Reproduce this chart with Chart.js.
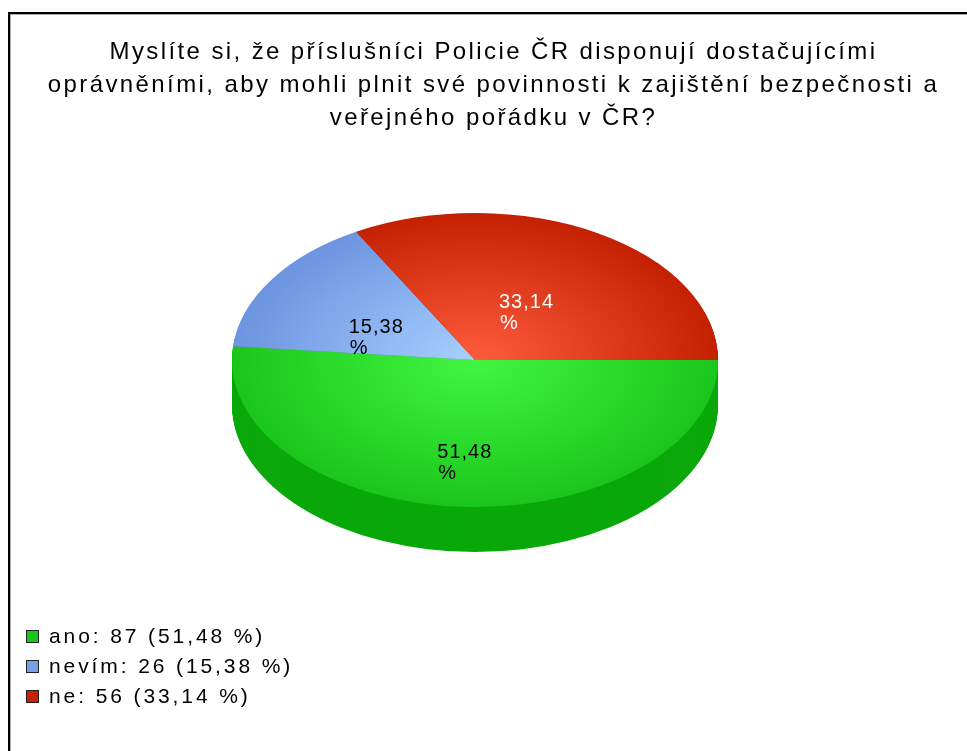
<!DOCTYPE html>
<html>
<head>
<meta charset="utf-8">
<script src="https://cdn.jsdelivr.net/npm/chart.js@4"></script>
<style>
  html, body { margin: 0; padding: 0; background: #fff; }
  #wrap { position: relative; width: 967px; height: 751px; overflow: hidden; font-family: "Liberation Sans", Arial, sans-serif; color: #000; }
  #ramecek { position: absolute; left: 8px; top: 12px; right: -10px; bottom: -10px; border-top: 2px solid #000; border-left: 2px solid #000; box-shadow: inset 1px 1px 0 #aaa; }
  #titulek { position: absolute; left: 0; width: 987px; top: 34px; text-align: center; font-size: 24px; line-height: 33px; letter-spacing: 2.4px; white-space: nowrap; }
  #legenda { position: absolute; left: 26px; top: 621px; font-size: 21px; line-height: 30px; letter-spacing: 2.9px; }
  .polozka { display: flex; align-items: center; height: 30px; }
  .ctverec { width: 11px; height: 11px; border: 1px solid #222; margin-right: 10px; }
  canvas { position: absolute; left: 0; top: 0; }
</style>
</head>
<body>
<div id="wrap">
  <canvas id="graf" width="967" height="751"></canvas>
  <div id="ramecek"></div>
  <div id="titulek"></div>
  <div id="legenda"></div>
</div>
<script>
// data z ankety
const nadpis = [
    "Myslíte si, že příslušníci Policie ČR disponují dostačujícími",
    "oprávněními, aby mohli plnit své povinnosti k zajištění bezpečnosti a",
    "veřejného pořádku v ČR?"
];
const kategorie = ["ano", "nevím", "ne"];
const pocty = [87, 26, 56];

// barvy
const barvyStred = ["rgb(66,246,66)", "rgb(168,208,255)", "rgb(255,92,62)"];
const barvyOkraj = ["rgb(26,198,26)", "rgb(108,148,224)", "rgb(196,32,2)"];
const barvyBok = ["rgb(10,168,10)", "rgb(84,118,188)", "rgb(160,24,0)"];
const barvyCtverec = ["rgb(24,200,24)", "rgb(120,160,228)", "rgb(200,32,0)"];
const barvyPopisku = ["#000", "#000", "#fff"];

const celkem = pocty.reduce((a, b) => a + b, 0);
const procenta = pocty.map(p => (p / celkem * 100).toFixed(2).replace(".", ","));

const SKLON = 147 / 243;   // zplosteni kolace
const HLOUBKA = 45;        // tloustka boku
const STRED_Y = 360;       // svisly stred elipsy na obrazovce

document.getElementById("titulek").innerHTML = nadpis.join("<br>");

const legenda = document.getElementById("legenda");
kategorie.forEach((k, i) => {
    const radek = document.createElement("div");
    radek.className = "polozka";
    const ctverec = document.createElement("span");
    ctverec.className = "ctverec";
    ctverec.style.backgroundColor = barvyCtverec[i];
    radek.appendChild(ctverec);
    radek.appendChild(document.createTextNode(`${k}: ${pocty[i]} (${procenta[i]} %)`));
    legenda.appendChild(radek);
});

function prechod(context) {
    const chart = context.chart;
    const i = context.dataIndex;
    const a = chart.chartArea;
    if (!a) return barvyOkraj[i];
    const cx = (a.left + a.right) / 2;
    const cy = (a.top + a.bottom) / 2;
    const r = Math.min(a.right - a.left, a.bottom - a.top) / 2;
    const g = chart.ctx.createRadialGradient(cx, cy, 0, cx, cy, r);
    g.addColorStop(0, barvyStred[i]);
    g.addColorStop(1, barvyOkraj[i]);
    return g;
}

// 3D efekt: bok kolace + zplosteni horni plochy
const kolac3d = {
    id: "kolac3d",
    beforeDatasetsDraw(chart) {
        const ctx = chart.ctx;
        const oblouky = chart.getDatasetMeta(0).data;
        for (let d = HLOUBKA; d > 0; d--) {
            oblouky.forEach((arc, i) => {
                ctx.save();
                ctx.translate(0, STRED_Y + d);
                ctx.scale(1, SKLON);
                ctx.translate(0, -arc.y);
                ctx.beginPath();
                ctx.moveTo(arc.x, arc.y);
                ctx.arc(arc.x, arc.y, arc.outerRadius, arc.startAngle, arc.endAngle);
                ctx.closePath();
                ctx.fillStyle = barvyBok[i];
                ctx.fill();
                ctx.restore();
            });
        }
        ctx.save();
        ctx.translate(0, STRED_Y);
        ctx.scale(1, SKLON);
        ctx.translate(0, -oblouky[0].y);
    },
    afterDatasetsDraw(chart) {
        const ctx = chart.ctx;
        ctx.restore();
        const oblouky = chart.getDatasetMeta(0).data;
        ctx.save();
        ctx.font = "20px 'Liberation Sans', Arial, sans-serif";
        ctx.letterSpacing = "1px";
        ctx.textAlign = "left";
        ctx.textBaseline = "alphabetic";
        oblouky.forEach((arc, i) => {
            const uhel = (arc.startAngle + arc.endAngle) / 2;
            const ax = arc.x + Math.cos(uhel) * arc.outerRadius * 0.46 - 5;
            const ay = STRED_Y + HLOUBKA / 2 + Math.sin(uhel) * arc.outerRadius * SKLON * 0.55;
            const w = ctx.measureText(procenta[i]).width;
            ctx.fillStyle = barvyPopisku[i];
            ctx.fillText(procenta[i], ax - w / 2, ay - 5);
            ctx.fillText("%", ax - w / 2 + 1, ay + 16);
        });
        ctx.restore();
    }
};

new Chart(document.getElementById("graf"), {
    type: "pie",
    data: {
        labels: kategorie,
        datasets: [{
            data: pocty,
            backgroundColor: prechod,
            borderWidth: 0,
            hoverOffset: 0
        }]
    },
    options: {
        responsive: false,
        animation: false,
        events: [],
        rotation: 90,
        layout: { padding: { left: 232, right: 249, top: 130, bottom: 135 } },
        plugins: {
            legend: { display: false },
            title: { display: false },
            tooltip: { enabled: false }
        }
    },
    plugins: [kolac3d]
});
</script>
</body>
</html>
